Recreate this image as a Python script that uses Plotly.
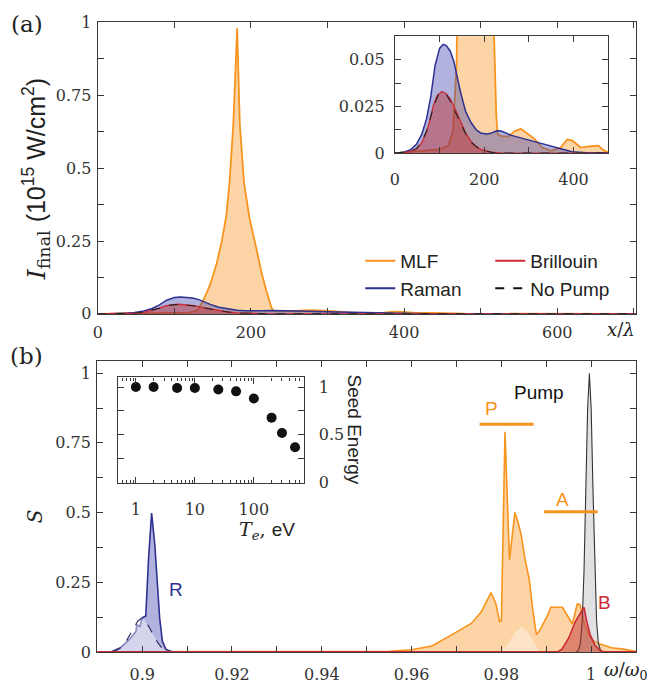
import plotly.graph_objects as go

W, H = 648, 696
def px(x): return x / W
def py(y): return 1 - y / H

# ---------------- Panel (a): final intensity vs x/lambda ----------------
x_a_mlf = [0, 60, 100, 120, 130, 138, 146, 155, 162, 168, 172, 177, 182, 185.5, 191, 198, 207, 214,
           220, 224, 227, 230, 240, 255, 267, 282, 301, 312, 330, 350, 371, 386, 397, 416, 438, 456,
           467, 478, 520, 600, 703]
y_a_mlf = [0, 0.001, 0.002, 0.004, 0.012, 0.047, 0.095, 0.17, 0.25, 0.34, 0.45, 0.65, 0.98, 0.65, 0.45,
           0.33, 0.225, 0.14, 0.08, 0.04, 0.02, 0.010, 0.009, 0.009, 0.0116, 0.013, 0.0099, 0.0078,
           0.003, 0.0012, 0.003, 0.0073, 0.0068, 0.003, 0.0037, 0.004, 0.0016, 0.0005, 0.0005, 0.0003, 0]

x_a_raman = [0, 20, 35, 48, 60, 71, 80, 90, 100, 108, 115, 124, 132, 140, 147, 158, 170, 182, 192, 205,
             215, 228, 238, 261, 298, 336, 367, 397, 430, 480, 703]
y_a_raman = [0, 0.0005, 0.0018, 0.0047, 0.0100, 0.0186, 0.0300, 0.0470, 0.0560, 0.0582, 0.0575, 0.0545,
             0.0490, 0.0400, 0.0325, 0.0225, 0.0165, 0.0125, 0.0108, 0.0103, 0.0106, 0.0120, 0.0118,
             0.0095, 0.0073, 0.0047, 0.0026, 0.0008, 0.0002, 0, 0]

x_a_brill = [0, 20, 35, 48, 60, 71, 80, 86, 95, 105, 115, 124, 135, 147, 158, 170, 182, 192, 215, 240, 703]
y_a_brill = [0, 0.0003, 0.0010, 0.0022, 0.0055, 0.0116, 0.0190, 0.0255, 0.0310, 0.0330, 0.0318, 0.0290,
             0.0235, 0.0168, 0.0110, 0.0064, 0.0035, 0.0020, 0.0005, 0, 0]

x_a_nopump = [0, 35, 48, 60, 71, 80, 88, 97, 106, 116, 126, 137, 148, 160, 172, 185, 200, 220, 250, 703]
y_a_nopump = [0, 0.0010, 0.0024, 0.0060, 0.0120, 0.0195, 0.0260, 0.0310, 0.0325, 0.0310, 0.0270, 0.0210,
              0.0155, 0.0095, 0.0055, 0.0030, 0.0013, 0.0003, 0, 0]

# ---------------- Panel (b): spectra vs omega/omega0 ----------------
w_mlf = [0.890, 0.950, 0.955, 0.960, 0.9645, 0.969, 0.9733, 0.9755, 0.9777, 0.9788, 0.9796, 0.9800,
         0.9808, 0.9818, 0.9830, 0.9838, 0.9844, 0.9853, 0.9862, 0.9870, 0.9878, 0.9882, 0.9888, 0.9903,
         0.9910, 0.9936, 0.9947, 0.9958, 0.9969, 0.9975, 0.9985, 0.9995, 1.0005, 1.0020, 1.0045, 1.0072,
         1.0095, 1.0100]
s_mlf = [0, 0, 0.002, 0.008, 0.021, 0.062, 0.102, 0.143, 0.213, 0.172, 0.108, 0.11, 0.79, 0.33, 0.50,
         0.46, 0.42, 0.33, 0.26, 0.15, 0.062, 0.07, 0.085, 0.132, 0.16, 0.16, 0.132, 0.10, 0.172, 0.17,
         0.10, 0.06, 0.04, 0.028, 0.015, 0.01, 0.003, 0.002]

w_np_p = [0.9800, 0.9815, 0.9830, 0.9845, 0.9860, 0.9875, 0.9885]
s_np_p = [0, 0.03, 0.07, 0.09, 0.07, 0.03, 0]

w_raman = [0.8930, 0.8952, 0.8971, 0.8986, 0.8988, 0.8995, 0.9000, 0.9008, 0.9014, 0.9021, 0.9028,
           0.9033, 0.9039, 0.9045, 0.9053, 0.9068]
s_raman = [0, 0.015, 0.044, 0.073, 0.097, 0.091, 0.122, 0.129, 0.33, 0.498, 0.387, 0.26, 0.12, 0.038,
           0.009, 0]

w_np_r = [0.8935, 0.8950, 0.8965, 0.8980, 0.8990, 0.8998, 0.9005, 0.9015, 0.9025, 0.9035, 0.9045, 0.9055, 0.9065]
s_np_r = [0, 0.012, 0.040, 0.085, 0.110, 0.120, 0.115, 0.090, 0.060, 0.032, 0.012, 0.003, 0]

w_brill = [0.890, 0.9925, 0.9935, 0.9950, 0.9965, 0.9978, 0.9984, 0.9990, 0.9998, 1.0008, 1.0020, 1.0030, 1.010]
s_brill = [0, 0, 0.01, 0.05, 0.11, 0.145, 0.16, 0.11, 0.06, 0.025, 0.005, 0, 0]

w_pump = [0.9966, 0.9971, 0.9976, 0.9980, 0.9984, 0.9988, 0.9992, 0.9996, 1.0000, 1.0004, 1.0008,
          1.0012, 1.0016, 1.0021, 1.0026]
s_pump = [0, 0.0044, 0.031, 0.11, 0.29, 0.58, 0.87, 1.0, 0.87, 0.58, 0.29, 0.11, 0.031, 0.0044, 0]

band_P_w = [0.97515, 0.98717]
band_P_s = [0.817, 0.817]
band_A_w = [0.98951, 1.00145]
band_A_s = [0.503, 0.503]

# ---------------- Inset (b): seed energy vs Te ----------------
Te_eV = [1, 2, 5, 10, 25, 50, 100, 200, 300, 500]
seed_energy = [1.0, 1.0, 0.99, 0.99, 0.975, 0.955, 0.88, 0.68, 0.52, 0.37]

# tick values / labels
a_x_ticks = [0, 200, 400, 600]
a_x_minor = [100, 300, 500, 700]
a_y_ticks = [0, 0.25, 0.5, 0.75, 1.0]
a_y_text = ['0', '0.25', '0.5', '0.75', '1']
ai_x_ticks = [0, 200, 400]
ai_y_ticks = [0, 0.025, 0.05]
b_x_ticks = [0.90, 0.92, 0.94, 0.96, 0.98, 1.00]
b_x_text = ['0.9', '0.92', '0.94', '0.96', '0.98', '1']
b_x_minor = [0.91, 0.93, 0.95, 0.97, 0.99]
bi_x_ticks = [1, 10, 100]
bi_x_minor = [0.6, 0.7, 0.8, 0.9, 2, 3, 4, 5, 6, 7, 8, 9, 20, 30, 40, 50, 60, 70, 80, 90,
              200, 300, 400, 500, 600, 700]
bi_y_ticks = [0, 0.5, 1.0]

# ---------------- styling ----------------
ORANGE = '#F7941D'
ORANGE_FILL = 'rgba(247,148,29,0.40)'
BLUE = '#2E3192'
BLUE_FILL = 'rgba(60,62,170,0.40)'
RED = '#CC2A36'
RED_FILL = 'rgba(190,40,45,0.45)'
SERIF = 'DejaVu Serif'
SANS = 'Liberation Sans'

fig = go.Figure()

def area(x, y, color, fill, xa, ya, width=1.6, dash=None):
    fig.add_trace(go.Scatter(x=x, y=y, mode='lines', xaxis=xa, yaxis=ya, showlegend=False,
                             line=dict(color=color, width=width, dash=dash),
                             fill='tozeroy' if fill else None, fillcolor=fill, hoverinfo='skip'))

for xa, ya in (('x', 'y'), ('x2', 'y2')):
    area(x_a_mlf, y_a_mlf, ORANGE, ORANGE_FILL, xa, ya, 1.8)
    area(x_a_raman, y_a_raman, BLUE, BLUE_FILL, xa, ya, 1.5)
    area(x_a_brill, y_a_brill, RED, RED_FILL, xa, ya, 1.3)
    area(x_a_nopump, y_a_nopump, '#222222', None, xa, ya, 1.1, 'dash')

# panel (b)
area(w_mlf, s_mlf, ORANGE, ORANGE_FILL, 'x3', 'y3', 1.6)
area(w_np_p, s_np_p, 'rgba(0,0,0,0)', 'rgba(255,255,255,0.38)', 'x3', 'y3', 0.1)
area(w_raman, s_raman, BLUE, BLUE_FILL, 'x3', 'y3', 1.6)
area(w_np_r, s_np_r, '#333366', 'rgba(255,255,255,0.45)', 'x3', 'y3', 1.2, 'dash')
area(w_pump, s_pump, '#333333', 'rgba(170,170,175,0.35)', 'x3', 'y3', 1.1)
area(w_brill, s_brill, RED, RED_FILL, 'x3', 'y3', 1.6)
fig.add_trace(go.Scatter(x=band_P_w, y=band_P_s, mode='lines', xaxis='x3', yaxis='y3', showlegend=False,
                         line=dict(color=ORANGE, width=3)))
fig.add_trace(go.Scatter(x=band_A_w, y=band_A_s, mode='lines', xaxis='x3', yaxis='y3', showlegend=False,
                         line=dict(color=ORANGE, width=3)))

# inset (b)
fig.add_trace(go.Scatter(x=Te_eV, y=seed_energy, mode='markers', xaxis='x4', yaxis='y4', showlegend=False,
                         marker=dict(color='#111111', size=10)))

# legend entries (line samples only)
for name, col, dash, lg in (('MLF', ORANGE, None, 'legend'), ('Raman', BLUE, None, 'legend'),
                            ('Brillouin', RED, None, 'legend2'), ('No Pump', '#111111', 'dash', 'legend2')):
    fig.add_trace(go.Scatter(x=[None], y=[None], mode='lines', name=name, legend=lg, xaxis='x', yaxis='y',
                             line=dict(color=col, width=2, dash=dash)))

tickfont = dict(family=SERIF, size=16, color='#333333')
axbase = dict(showgrid=False, zeroline=False, showline=True, linecolor='#3a3a3a', linewidth=1.3,
              mirror='ticks', ticks='inside', ticklen=6, tickcolor='#3a3a3a', tickwidth=1.1,
              tickfont=tickfont, tickmode='array')

def ax(minor_vals=None, minor_len=6, **kw):
    d = dict(axbase)
    d.update(kw)
    if minor_vals is not None:
        d['minor'] = dict(tickmode='array', tickvals=minor_vals, ticks='inside', ticklen=minor_len,
                          tickcolor='#3a3a3a', tickwidth=1.0, showgrid=False)
    return d

fig.update_layout(
    width=W, height=H, margin=dict(l=0, r=0, t=0, b=0),
    paper_bgcolor='white', plot_bgcolor='white',
    xaxis=ax(a_x_minor, domain=[px(93.5), px(636)], range=[0, 703], anchor='y',
             tickvals=a_x_ticks, ticktext=[str(v) for v in a_x_ticks], ticklabelstandoff=4),
    yaxis=ax([0.125, 0.375, 0.625, 0.875], domain=[py(314), py(14)], range=[0, 1.003], anchor='x',
             tickvals=a_y_ticks, ticktext=a_y_text, ticklabelstandoff=2),
    xaxis2=ax([100, 300], domain=[px(393), px(608)], range=[0, 478], anchor='y2',
              tickvals=ai_x_ticks, ticktext=[str(v) for v in ai_x_ticks], ticklabelstandoff=12),
    yaxis2=ax([0.0125, 0.0375], domain=[py(149), py(29)], range=[0, 0.0625], anchor='x2',
              tickvals=ai_y_ticks, ticktext=['0', '0.025', '0.05'], ticklabelstandoff=6),
    xaxis3=ax(b_x_minor, domain=[px(93), px(636)], range=[0.89, 1.01], anchor='y3',
              tickvals=b_x_ticks, ticktext=b_x_text, ticklabelstandoff=8),
    yaxis3=ax([0.125, 0.375, 0.625, 0.875], domain=[py(661), py(362)], range=[0, 1.045], anchor='x3',
              tickvals=a_y_ticks, ticktext=a_y_text, ticklabelstandoff=2),
    xaxis4=ax(bi_x_minor, 3, domain=[px(114), px(301.7)], type='log', range=[-0.301, 2.857], anchor='y4',
              tickvals=bi_x_ticks, ticktext=['1', '10', '100'], ticklabelstandoff=12),
    yaxis4=ax([0.25, 0.75], domain=[py(487.3), py(379.3)], range=[0, 1.1], anchor='x4', side='right',
              tickvals=bi_y_ticks, ticktext=['0', '0.5', '1'], ticklabelstandoff=10),
    legend=dict(x=px(358), y=py(240), xanchor='left', yanchor='top', bgcolor='rgba(0,0,0,0)',
                font=dict(family=SANS, size=19, color='#222222'), itemwidth=30, tracegroupgap=0),
    legend2=dict(x=px(489), y=py(240), xanchor='left', yanchor='top', bgcolor='rgba(0,0,0,0)',
                 font=dict(family=SANS, size=19, color='#222222'), itemwidth=30, tracegroupgap=0),
)

def note(text, x, y, size=19, family=SANS, color='#222222', angle=0, xanchor='center'):
    fig.add_annotation(text=text, x=px(x), y=py(y), xref='paper', yref='paper', showarrow=False,
                       font=dict(family=family, size=size, color=color), textangle=angle,
                       xanchor=xanchor, yanchor='middle')

note('(a)', 22, 16, 23, SERIF)
note('(b)', 22, 357, 23, SERIF)
note('<i>I</i><sub>final</sub> <span style="font-family:Liberation Sans">(10<sup>15</sup> W/cm<sup>2</sup>)</span>',
     32, 176, 25, SERIF, angle=-90)
note('<i>x</i>/<i>λ</i>', 621, 330, 18, SERIF)
note('<i>ω</i>/<i>ω</i><sub>0</sub>', 602, 681, 18, SERIF, xanchor='left')
note('<i>S</i>', 30, 522, 20, SERIF, angle=-90)
note('<i>T</i><sub><i>e</i></sub>, <span style="font-family:Liberation Sans">eV</span>', 264, 536, 19, SERIF)
note('Seed Energy', 352, 433, 19, SANS, angle=90)
note('Pump', 538, 395, 19, SANS, '#111111')
note('P', 490, 411, 19, SANS, ORANGE)
note('A', 562, 505, 19, SANS, ORANGE)
note('B', 604, 610, 19, SANS, RED)
note('R', 172, 597, 19, SANS, BLUE)

fig.write_html('out.html')
